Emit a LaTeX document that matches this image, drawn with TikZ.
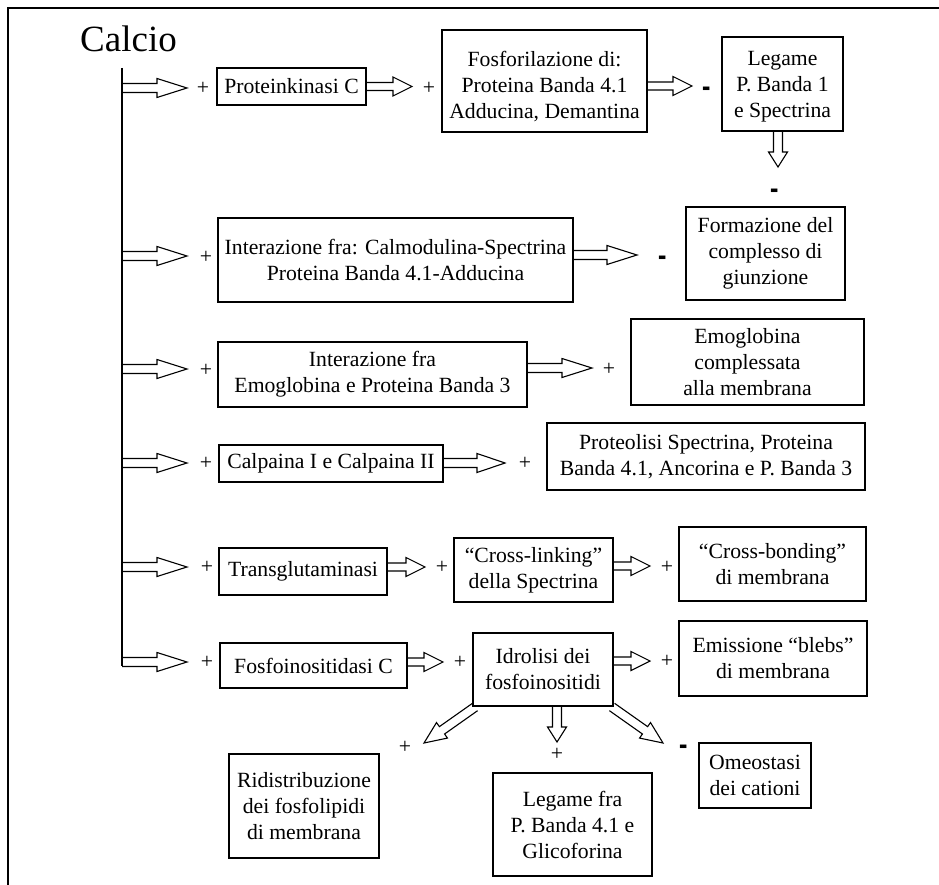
\documentclass[tikz,border=0pt]{standalone}
\usepackage{fontspec}
\usepackage{graphicx}
\setmainfont{Liberation Serif}
\usetikzlibrary{calc}
\newcommand\boxfont{\fontsize{21.7}{26}\selectfont}
% centred block of lines, lowered by #1 without changing its size
\newcommand\lowered[2]{\raisebox{-#1}[\height][\depth]{\begin{tabular}{@{}c@{}}#2\end{tabular}}}
\newcommand\minussign{\scalebox{1.15}[1.9]{\bfseries -}}
\tikzset{
  box/.style={draw, line width=1.4pt, inner sep=0pt, align=center, font=\boxfont},
  sign/.style={inner sep=0pt, font=\boxfont},
  minus/.style={inner sep=0pt, font=\boxfont, yshift=-5pt},
  hollow/.style={draw, line width=1.1pt, line join=miter},
  frameline/.style={line width=1.5pt},
  stem/.style={line width=1.5pt},
}
% hollow block arrow: [shaft half width]{from}{to}{head length}
\newcommand\harrow[4][4.5]{%
  \coordinate (hh) at ($(#3)!#4pt!(#2)$);
  \draw[hollow] ($(#2)!#1pt!90:(#3)$) -- ($(hh)!#1pt!90:(#3)$)
     -- ($(hh)!9.5pt!90:(#3)$) -- (#3) -- ($(hh)!9.5pt!-90:(#3)$)
     -- ($(hh)!#1pt!-90:(#3)$) -- ($(#2)!#1pt!-90:(#3)$);
}
\begin{document}
\begin{tikzpicture}[x=1pt, y=-1pt]
\useasboundingbox (0,0) rectangle (939,885);
\fill[white] (0,0) rectangle (939,885);

% outer frame (top and left edges)
\coordinate (ftl) at (8,8);
\coordinate (ftr) at (939,8);
\coordinate (fbl) at (8,885);
\draw[frameline] (ftr) -- (ftl) -- (fbl);

% title and main stem
\node[anchor=base, inner sep=0pt, font=\fontsize{37}{44}\selectfont] (calcio) at (128.5,52) {Calcio};
\coordinate (stemtop) at (122,68);
\coordinate (stembot) at (122,666);
\draw[stem] (stemtop) -- (stembot);

% boxes
\node[box, minimum width=149, minimum height=37] (pkc) at (291.5,86.5) {Proteinkinasi C};
\node[box, minimum width=205, minimum height=102] (fosf) at (544.5,81) {\lowered{6pt}{Fosforilazione di:\\Proteina Banda 4.1\\Adducina, Demantina}};
\node[box, minimum width=121, minimum height=94] (leg1) at (782.5,84) {\lowered{2pt}{Legame\\P. Banda 1\\e Spectrina}};
\node[box, minimum width=355, minimum height=84] (intcal) at (395.5,260) {Interazione fra: Calmodulina-Spectrina\\Proteina Banda 4.1-Adducina};
\node[box, minimum width=159, minimum height=93] (form) at (765.5,253.5) {Formazione del\\complesso di\\giunzione};
\node[box, minimum width=309, minimum height=65] (inteb) at (372.5,374.5) {Interazione fra\\Emoglobina e Proteina Banda 3};
\node[box, minimum width=233, minimum height=86] (emo) at (747.5,362) {Emoglobina\\complessata\\alla membrana};
\node[box, minimum width=224, minimum height=37] (calp) at (331,463.5) {Calpaina I e Calpaina II};
\node[box, minimum width=318, minimum height=67] (prot) at (706,456.5) {Proteolisi Spectrina, Proteina\\Banda 4.1, Ancorina e P. Banda 3};
\node[box, minimum width=168, minimum height=47] (trans) at (303,571.5) {Transglutaminasi};
\node[box, minimum width=159, minimum height=64] (clink) at (533.5,570) {``Cross-linking''\\della Spectrina};
\node[box, minimum width=187, minimum height=74] (cbond) at (772.5,564) {``Cross-bonding''\\di membrana};
\node[box, minimum width=187, minimum height=45] (fosc) at (313.5,665.5) {Fosfoinositidasi C};
\node[box, minimum width=140, minimum height=73] (idro) at (543,669.5) {Idrolisi dei\\fosfoinositidi};
\node[box, minimum width=188, minimum height=75] (emis) at (773,658.5) {Emissione ``blebs''\\di membrana};
\node[box, minimum width=159, minimum height=103] (leg2) at (572.5,824.5) {Legame fra\\P. Banda 4.1 e\\Glicoforina};
\node[box, minimum width=112, minimum height=65] (omeo) at (755,775.5) {Omeostasi\\dei cationi};
\node[box, minimum width=150, minimum height=104] (ridi) at (304,806) {Ridistribuzione\\dei fosfolipidi\\di membrana};

% branch points on the stem and arrow tips
\coordinate (b1) at (122,88);  \coordinate (t1) at (187,88);
\coordinate (b2) at (122,256); \coordinate (t2) at (187,256);
\coordinate (b3) at (122,369); \coordinate (t3) at (187,369);
\coordinate (b4) at (122,463); \coordinate (t4) at (187,463);
\coordinate (b5) at (122,567); \coordinate (t5) at (187,567);
\coordinate (b6) at (122,662); \coordinate (t6) at (187,662);
\harrow{b1}{t1}{30}
\harrow{b2}{t2}{30}
\harrow{b3}{t3}{30}
\harrow{b4}{t4}{30}
\harrow{b5}{t5}{30}
\harrow{b6}{t6}{30}

% arrows leaving boxes
\coordinate (pkcA) at (366,86.5);  \coordinate (pkcB) at (412,86.5);
\harrow[4]{pkcA}{pkcB}{19}
\coordinate (fosfA) at (647,86);   \coordinate (fosfB) at (692,86);
\harrow[4]{fosfA}{fosfB}{19}
\coordinate (leg1A) at (778,131);  \coordinate (leg1B) at (778,167);
\harrow{leg1A}{leg1B}{15}
\coordinate (intcalA) at (573,255); \coordinate (intcalB) at (637,255);
\harrow{intcalA}{intcalB}{30}
\coordinate (intebA) at (527,368); \coordinate (intebB) at (592,368);
\harrow{intebA}{intebB}{30}
\coordinate (calpA) at (443,463);  \coordinate (calpB) at (505,463);
\harrow{calpA}{calpB}{28}
\coordinate (transA) at (387,567); \coordinate (transB) at (425,567);
\harrow[4]{transA}{transB}{19}
\coordinate (clinkA) at (613,566); \coordinate (clinkB) at (650,566);
\harrow[4]{clinkA}{clinkB}{19}
\coordinate (foscA) at (407,662);  \coordinate (foscB) at (443,662);
\harrow[4]{foscA}{foscB}{19}
\coordinate (idroA) at (613,661);  \coordinate (idroB) at (650,661);
\harrow[4]{idroA}{idroB}{19}
\coordinate (idroD) at (557,706);  \coordinate (idroDt) at (557,742);
\harrow{idroD}{idroDt}{15}
\coordinate (idroSW) at (475,707); \coordinate (idroSWt) at (424,743);
\harrow{idroSW}{idroSWt}{22}
\coordinate (idroSE) at (612,707); \coordinate (idroSEt) at (663,743);
\harrow{idroSE}{idroSEt}{22}

% effect signs
\node[sign] (s1) at (203,88) {+};
\node[sign] (s2) at (429,88) {+};
\node[minus] (s3) at (707,88) {\minussign};
\node[minus] (s4) at (775,190) {\minussign};
\node[sign] (s5) at (206,257) {+};
\node[minus] (s6) at (663,257) {\minussign};
\node[sign] (s7) at (206,370) {+};
\node[sign] (s8) at (609,369) {+};
\node[sign] (s9) at (206,463) {+};
\node[sign] (s10) at (525,463) {+};
\node[sign] (s11) at (207,567) {+};
\node[sign] (s12) at (442,567) {+};
\node[sign] (s13) at (667,567) {+};
\node[sign] (s14) at (207,662) {+};
\node[sign] (s15) at (460,662) {+};
\node[sign] (s16) at (667,661) {+};
\node[sign] (s17) at (557,754) {+};
\node[sign] (s18) at (405,747) {+};
\node[minus] (s19) at (684,746) {\minussign};
\end{tikzpicture}
\end{document}
